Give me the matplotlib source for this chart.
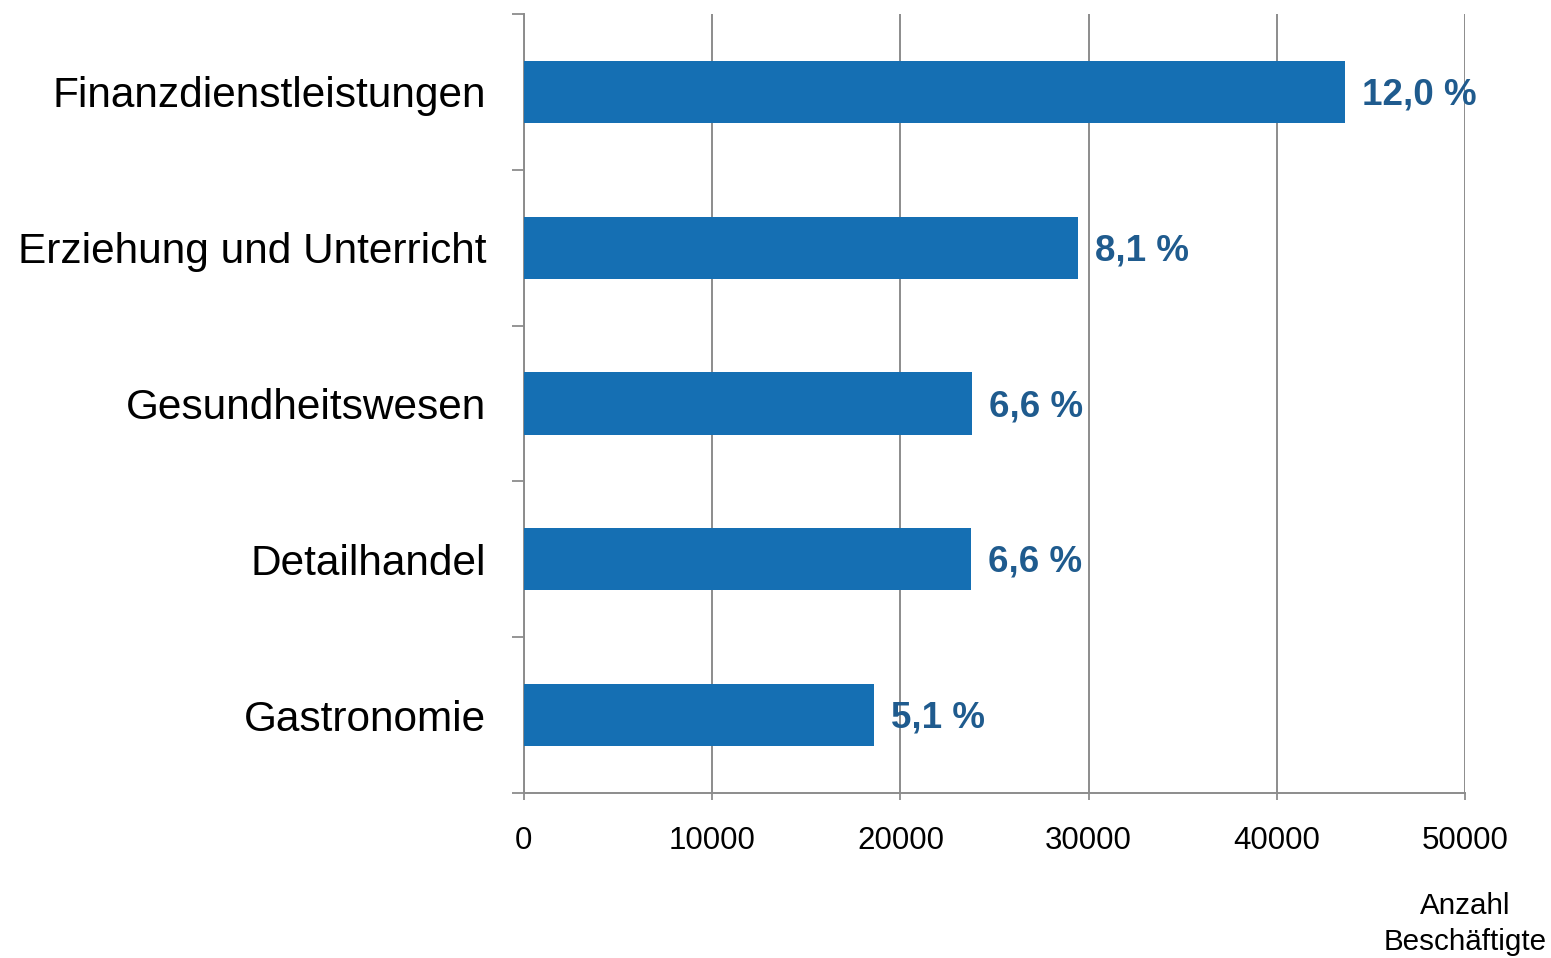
import matplotlib.pyplot as plt
import numpy as np

plt.rcParams['font.family'] = ['Liberation Sans', 'DejaVu Sans']

# Branchen, Anzahl Beschäftigte und Anteil (von oben nach unten)
categories = ["Finanzdienstleistungen", "Erziehung und Unterricht",
              "Gesundheitswesen", "Detailhandel", "Gastronomie"]
employees = [43600, 29450, 23800, 23750, 18600]
shares = ["12,0 %", "8,1 %", "6,6 %", "6,6 %", "5,1 %"]
xticks = [0, 10000, 20000, 30000, 40000, 50000]

BAR_COLOR = "#156FB3"
LABEL_COLOR = "#1F5B8E"
GRID_COLOR = "#8C8C8C"


def main():
    fig = plt.figure(figsize=(15.51, 9.58), dpi=100)
    ax = fig.add_axes([0.3378, 0.1722, 0.6068, 0.8132])

    y = np.arange(len(categories))
    ax.barh(y, employees, height=0.4, color=BAR_COLOR, zorder=3)

    for yi, val, txt in zip(y, employees, shares):
        ax.text(val + 900, yi + 0.02, txt, va="center", ha="left", fontsize=26.5,
                fontweight="bold", color=LABEL_COLOR, zorder=4)

    ax.set_xlim(0, 50000)
    ax.set_ylim(len(categories) - 0.5, -0.5)
    ax.set_xticks(xticks)
    ax.set_xticklabels([str(t) for t in xticks], fontsize=22.5)
    ax.set_yticks(y)
    ax.set_yticklabels(categories, fontsize=30.5)
    ax.set_yticks(np.arange(-0.5, len(categories)), minor=True)

    ax.tick_params(axis="y", which="major", length=0, pad=27)
    ax.tick_params(axis="y", which="minor", length=8.5, width=1.3, color=GRID_COLOR)
    ax.tick_params(axis="x", which="major", length=5, width=1.3, color=GRID_COLOR, pad=19)

    ax.grid(axis="x", color=GRID_COLOR, linewidth=1.4, zorder=0)
    for side in ["top", "right"]:
        ax.spines[side].set_visible(False)
    for side in ["left", "bottom"]:
        ax.spines[side].set_color(GRID_COLOR)
        ax.spines[side].set_linewidth(1.4)

    fig.text(1465 / 1551, 1 - 924 / 958, "Anzahl\nBeschäftigte", ha="center",
             va="center", fontsize=21.3, linespacing=1.4)

    fig.savefig("out.png", dpi=100)


if __name__ == "__main__":
    main()
